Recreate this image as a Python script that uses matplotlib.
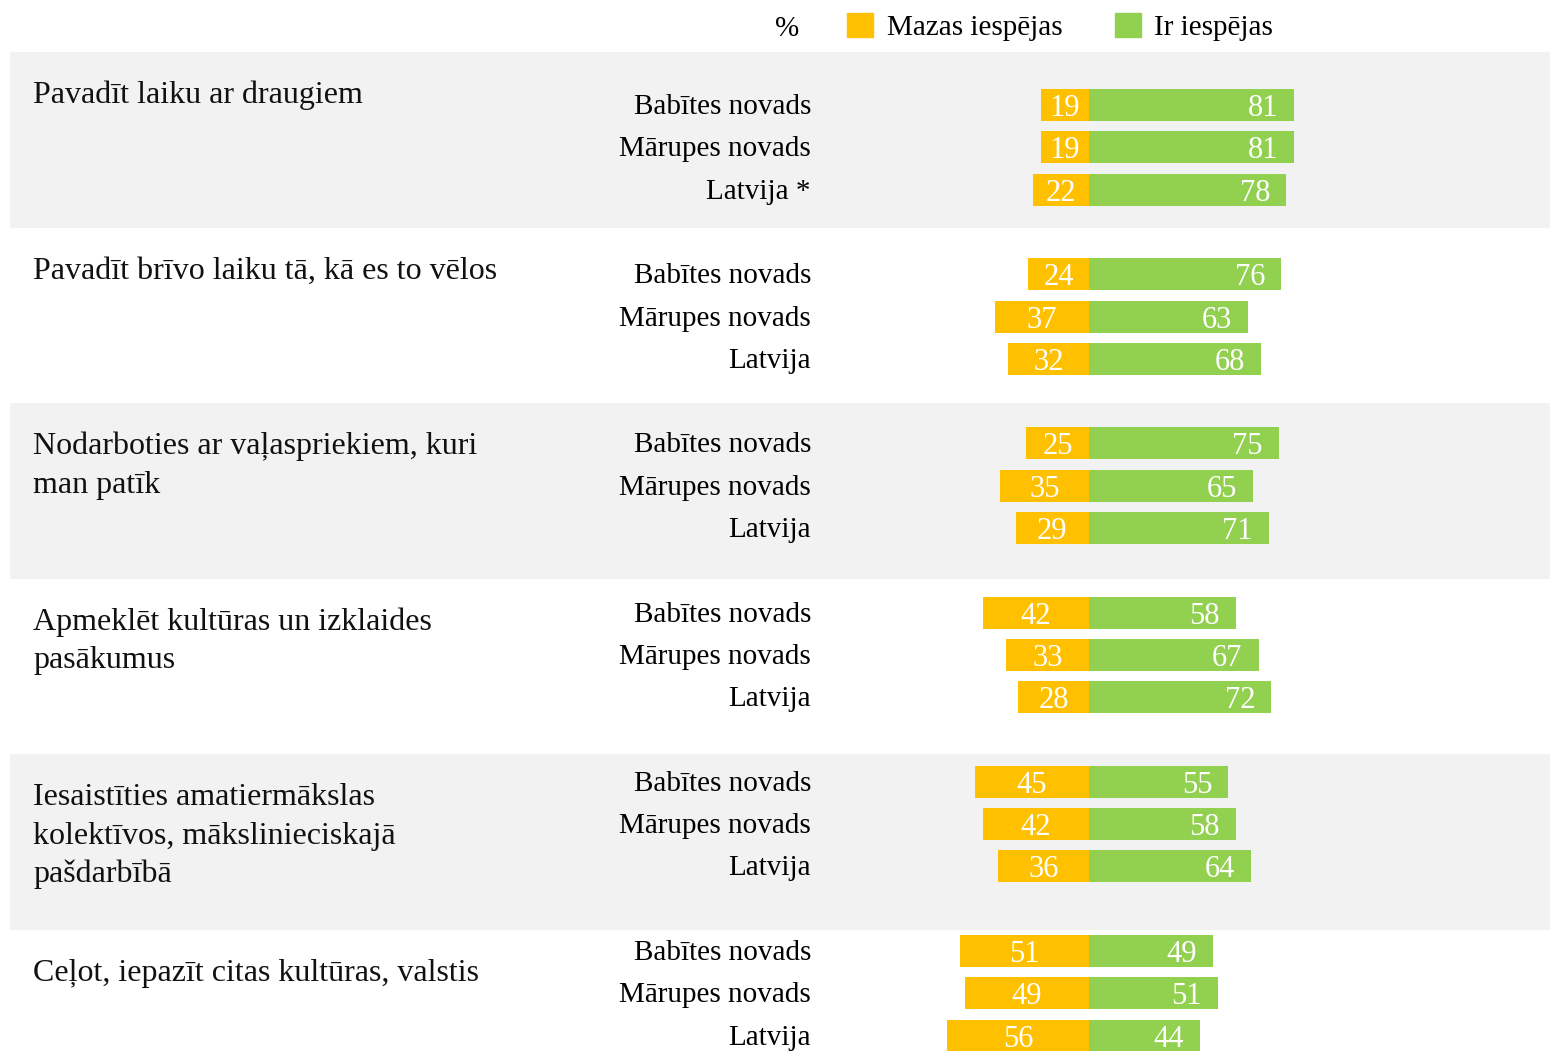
import matplotlib.pyplot as plt
from matplotlib.patches import Patch

# data
categories = [
    "Pavadīt laiku ar draugiem",
    "Pavadīt brīvo laiku tā, kā es to vēlos",
    "Nodarboties ar vaļaspriekiem, kuri\nman patīk",
    "Apmeklēt kultūras un izklaides\npasākumus",
    "Iesaistīties amatiermākslas\nkolektīvos, mākslinieciskajā\npašdarbībā",
    "Ceļot, iepazīt citas kultūras, valstis",
]
regions = ["Babītes novads", "Mārupes novads", "Latvija"]
low = [[19, 19, 22], [24, 37, 32], [25, 35, 29], [42, 33, 28], [45, 42, 36], [51, 49, 56]]
high = [[81, 81, 78], [76, 63, 68], [75, 65, 71], [58, 67, 72], [55, 58, 64], [49, 51, 44]]
series_names = ["Mazas iespējas", "Ir iespējas"]

ORANGE = "#FFC000"
GREEN = "#92D050"
BAND = "#F2F2F2"

plt.rcParams['font.family'] = ['Liberation Serif', 'DejaVu Serif']

W, H = 1550, 1051
fig = plt.figure(figsize=(W / 100, H / 100), dpi=100)
ax = fig.add_axes([0, 0, 1, 1])
px = 2.53  # pixels per percent
zero = 1089
ax.set_xlim(-zero / px, (W - zero) / px)
ax.set_ylim(H, 0)
ax.axis('off')

# layout (pixels from top)
first_row = 105
group_step = 169.2
row_step = 42.3
bar_h = 32
band_top = 52
band_step = 175.6
line_h = 38.5

yt = ax.get_yaxis_transform()

for g, cat in enumerate(categories):
    top = band_top + g * band_step
    if g % 2 == 0:
        ax.axhspan(top, top + band_step, xmin=10 / W, xmax=1, color=BAND, lw=0, zorder=0)
    for i, line in enumerate(cat.split("\n")):
        ax.text(33 / W, top + 51 + i * line_h, line, transform=yt, fontsize=23,
                va='baseline', ha='left', color='#111111')

    ys = [first_row + g * group_step + r * row_step for r in range(3)]
    lo = low[g]
    hi = high[g]
    ax.barh(ys, [-v for v in lo], height=bar_h, color=ORANGE, lw=0, zorder=2)
    ax.barh(ys, hi, height=bar_h, color=GREEN, lw=0, zorder=2)
    for r, y in enumerate(ys):
        name = regions[r]
        if g == 0 and r == 2:
            name = name + " *"
        ax.text(811 / W, y + 9, name, transform=yt, fontsize=21, ha='right', va='baseline')
        ax.text(-lo[r] / 2, y + 11, str(lo[r]), color='white', fontsize=22,
                ha='center', va='baseline', zorder=3)
        ax.text(hi[r] - 16 / px, y + 11, str(hi[r]), color='white', fontsize=22,
                ha='right', va='baseline', zorder=3)

# legend
fig.text(775 / W, 1 - 36 / H, "%", fontsize=21, va='baseline', ha='left')
handles = [Patch(color=ORANGE), Patch(color=GREEN)]
fig.legend(handles, series_names, loc='upper left', bbox_to_anchor=(847 / W, 1 - 13 / H),
           ncol=2, frameon=False, fontsize=21, handlelength=0.89, handleheight=0.89,
           handletextpad=0.47, columnspacing=1.8, borderpad=0, borderaxespad=0)

fig.savefig("out.png", dpi=100)
